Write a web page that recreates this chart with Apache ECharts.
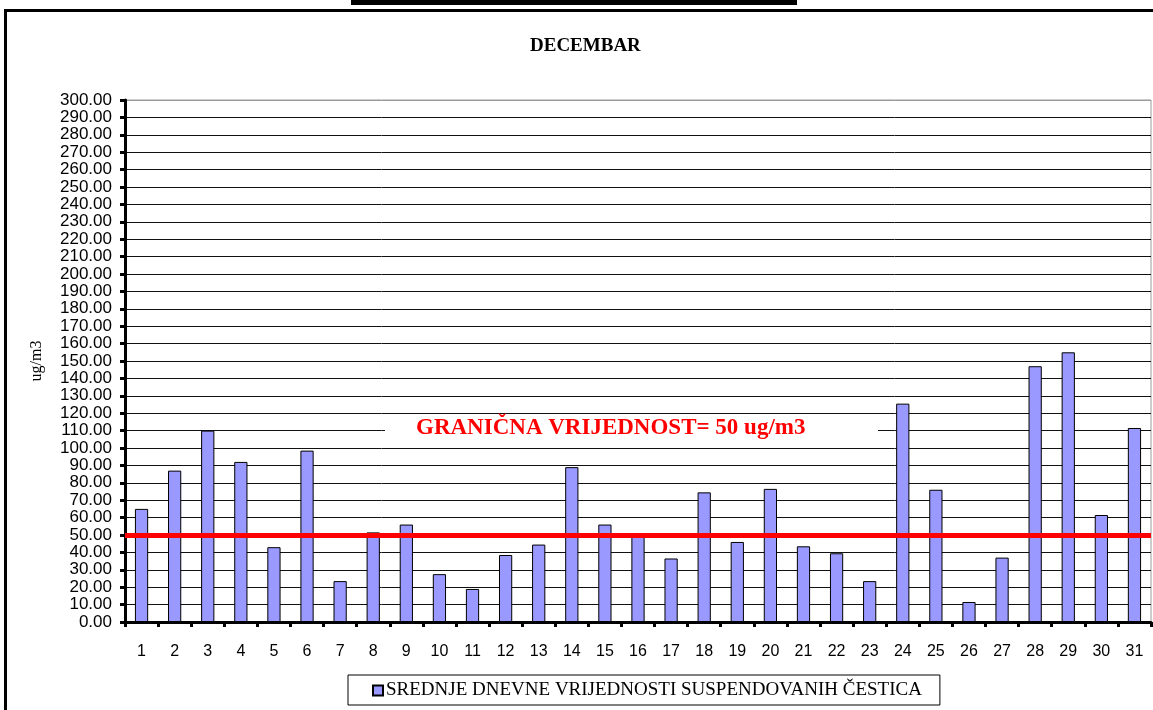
<!DOCTYPE html>
<html>
<head>
<meta charset="utf-8">
<script src="https://cdn.jsdelivr.net/npm/echarts@6/dist/echarts.min.js"></script>
<style>
  html, body { margin: 0; padding: 0; background: #fff; }
  #chart { width: 1153px; height: 710px; }
</style>
</head>
<body>
<div id="chart"></div>
<script>
var days = ['1','2','3','4','5','6','7','8','9','10','11','12','13','14','15','16',
            '17','18','19','20','21','22','23','24','25','26','27','28','29','30','31'];
var pm = [65, 87, 110, 92, 43, 98.5, 23.5, 51.5, 56, 27.5, 19, 38.5, 44.5, 89, 56, 51,
          36.5, 74.5, 46, 76.5, 43.5, 39.5, 23.5, 125.5, 76, 11.5, 37, 147, 155, 61.5, 111.5];
var limit = 50;
var seriesName = 'SREDNJE DNEVNE VRIJEDNOSTI SUSPENDOVANIH ČESTICA';
var limitText = 'GRANIČNA VRIJEDNOST= 50 ug/m3';

var serif = '"Liberation Serif", "Times New Roman", serif';
var sans = '"Liberation Sans", Arial, sans-serif';

// grid lines: all black except the top one (300) which is grey like the plot border
var gridColors = [];
for (var i = 0; i < 31; i++) {
    gridColors.push(i === 30 ? '#9a9a9a' : '#111');
}

var myChart = echarts.init(document.getElementById('chart'));
var option = {
    backgroundColor: '#fff',
    animation: false,
    textStyle: { fontFamily: serif },
    title: {
        text: 'DECEMBAR',
        left: 525,
        top: 32,
        textStyle: {
            fontFamily: serif,
            fontSize: 19,
            fontWeight: 'bold',
            color: '#000'
        }
    },
    legend: {
        data: [seriesName],
        left: 348,
        top: 675,
        icon: 'rect',
        itemWidth: 10,
        itemHeight: 10,
        padding: [6, 18, 5, 24],
        borderColor: '#000',
        borderWidth: 1,
        textStyle: {
            fontFamily: serif,
            fontSize: 19,
            color: '#000',
            padding: [0, 0, 0, -2]
        }
    },
    grid: {
        left: 125,
        right: 2,
        top: 100,
        bottom: 88,
        show: true,
        borderColor: '#9a9a9a',
        borderWidth: 1
    },
    xAxis: {
        type: 'category',
        data: days,
        axisLine: { lineStyle: { color: '#000', width: 3 } },
        axisTick: { show: true, length: 5, lineStyle: { color: '#000', width: 3 } },
        axisLabel: {
            margin: 22,
            fontFamily: sans,
            fontSize: 16,
            color: '#000'
        }
    },
    yAxis: {
        type: 'value',
        min: 0,
        max: 300,
        interval: 10,
        name: 'ug/m3',
        nameLocation: 'middle',
        nameGap: 80,
        nameTextStyle: {
            fontFamily: serif,
            fontSize: 16,
            color: '#000'
        },
        axisLine: { show: true, lineStyle: { color: '#000', width: 3 } },
        axisTick: { show: true, length: 5, lineStyle: { color: '#000', width: 3 } },
        axisLabel: {
            margin: 13,
            fontFamily: sans,
            fontSize: 17,
            color: '#000',
            formatter: function (v) { return v.toFixed(2); }
        },
        splitLine: { lineStyle: { color: gridColors, width: 1 } }
    },
    series: [{
        name: seriesName,
        type: 'bar',
        data: pm,
        barWidth: '40%',
        itemStyle: {
            color: '#9999ff',
            borderColor: '#000',
            borderWidth: 1
        },
        markLine: {
            silent: true,
            symbol: ['none', 'none'],
            label: { show: false },
            lineStyle: { color: '#ff0000', width: 5, type: 'solid' },
            data: [{ yAxis: limit }]
        }
    }],
    graphic: [
        // page frame and the bar above it
        { type: 'rect', shape: { x: 351, y: 0, width: 446, height: 5 }, style: { fill: '#000' } },
        { type: 'rect', shape: { x: 4, y: 9, width: 1149, height: 3 }, style: { fill: '#000' } },
        { type: 'rect', shape: { x: 4, y: 9, width: 3, height: 701 }, style: { fill: '#000' } },
        // white box behind the limit caption
        { type: 'rect', z: 10, shape: { x: 385, y: 419, width: 493, height: 22 }, style: { fill: '#fff' } },
        {
            type: 'text', z: 11, left: 416, top: 417,
            style: {
                text: limitText,
                fill: '#ff0000',
                font: 'bold 23px "Liberation Serif"'
            }
        }
    ]
};
myChart.setOption(option);
</script>
</body>
</html>
